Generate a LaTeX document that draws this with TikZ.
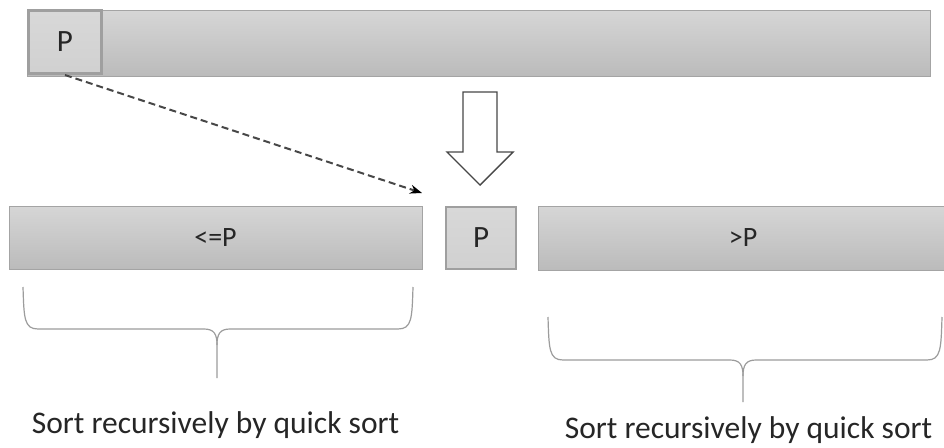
\documentclass[tikz,border=0pt]{standalone}
\usepackage{fontspec}
\setmainfont{Carlito}
\usetikzlibrary{arrows.meta}
\definecolor{barfillA}{HTML}{D6D6D6}
\definecolor{barfillB}{HTML}{BBBBBB}
\definecolor{barline}{HTML}{A4A4A4}
\definecolor{txtgray}{HTML}{262626}
\definecolor{bracegray}{HTML}{9C9C9C}

\begin{document}
\begin{tikzpicture}[x=1pt, y=-1pt, >=Stealth,
  bar/.style={draw=barline, line width=1pt, top color=barfillA, bottom color=barfillB,
    inner sep=0pt, text=txtgray, font=\fontsize{28}{28}\selectfont},
  pivot/.style={bar, draw=barfillB!85!black, line width=3pt, top color=barfillA!95!white,
    bottom color=barfillA!80!barfillB, font=\fontsize{31}{31}\selectfont},
  bracket/.style={draw=bracegray, line width=1.2pt},
  note/.style={text=txtgray, font=\fontsize{31.5}{31.5}\selectfont, inner sep=0pt, anchor=base}]
  \useasboundingbox[fill=white] (0,0) rectangle (944,447);
  % input array with the pivot in front
  \node[bar, minimum width=903pt, minimum height=66pt] (input) at (478.5,43) {};
  \node[pivot, minimum width=73pt, minimum height=63pt] (pTop) at (65,42) {P};
  % partitioned array
  \node[bar, minimum width=413pt, minimum height=63pt] (low) at (215.5,237.5) {<=P};
  \node[pivot, line width=2pt, minimum width=70pt, minimum height=62pt] (pMid) at (481,237.5) {P};
  \node[bar, minimum width=410pt, minimum height=64pt] (high) at (743,238) {>P};
  % pivot moves to its place
  \coordinate (pEnd) at (422,193);
  \draw[-{Stealth[black]}, dash pattern=on 7pt off 4pt, line width=2pt,
    draw=txtgray!85] (pTop.south) -- (pEnd);
  % big hollow arrow
  \draw[fill=white, draw=txtgray!85, line width=1.4pt, line join=miter]
    (463,92) -- (497,92) -- (497,152) -- (513,152) -- (480,185) -- (447,152) -- (463,152) -- cycle;
  % braces
  \draw[bracket] (23,287) .. controls (24,318) and (24,329) .. (38,329) -- (204,329)
    .. controls (214,329) and (217,334) .. (217,345) -- (217,378);
  \draw[bracket] (413,287) .. controls (412,318) and (412,329) .. (398,329) -- (230,329)
    .. controls (220,329) and (217,334) .. (217,345);
  \draw[bracket] (548,317) .. controls (549,349) and (549,360) .. (563,360) -- (730,360)
    .. controls (740,360) and (743,365) .. (743,376) -- (743,402);
  \draw[bracket] (942,317) .. controls (941,349) and (941,360) .. (927,360) -- (756,360)
    .. controls (746,360) and (743,365) .. (743,376);
  % captions
  \node[note] (sortLow) at (215.5,433) {Sort recursively by quick sort};
  \node[note] (sortHigh) at (748.5,438) {Sort recursively by quick sort};
\end{tikzpicture}
\end{document}
